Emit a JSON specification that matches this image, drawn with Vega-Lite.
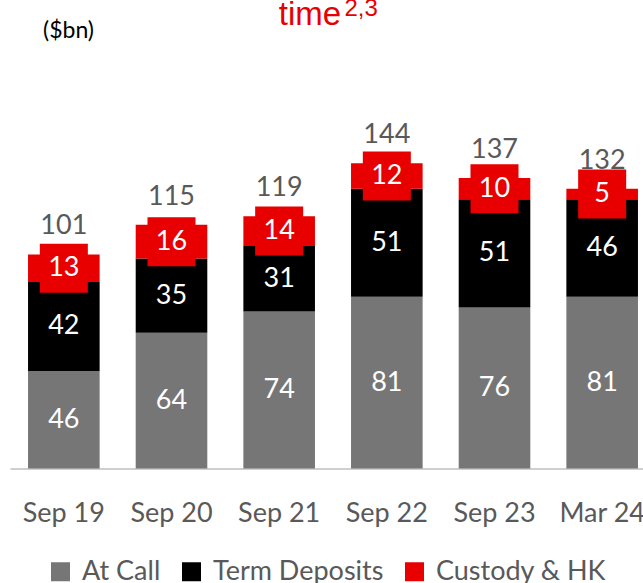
{
  "$schema": "https://vega.github.io/schema/vega-lite/v6.json",
  "autosize": "none",
  "width": 646,
  "height": 318,
  "padding": {"left": 10, "top": 150.5, "right": 0, "bottom": 114.5},
  "background": "white",
  "title": {
    "text": "time",
    "color": "#E80000",
    "font": "Liberation Sans",
    "fontSize": 33,
    "fontWeight": "normal",
    "anchor": "middle",
    "frame": "group",
    "baseline": "alphabetic",
    "dx": -23,
    "dy": 66
  },
  "config": {
    "view": {"stroke": null},
    "font": "Lato"
  },
  "data": {
    "values": [
      {"period": "Sep 19", "series": "At Call", "order": 1, "value": 46},
      {"period": "Sep 19", "series": "Term Deposits", "order": 2, "value": 42},
      {"period": "Sep 19", "series": "Custody & HK", "order": 3, "value": 13},
      {"period": "Sep 20", "series": "At Call", "order": 1, "value": 64},
      {"period": "Sep 20", "series": "Term Deposits", "order": 2, "value": 35},
      {"period": "Sep 20", "series": "Custody & HK", "order": 3, "value": 16},
      {"period": "Sep 21", "series": "At Call", "order": 1, "value": 74},
      {"period": "Sep 21", "series": "Term Deposits", "order": 2, "value": 31},
      {"period": "Sep 21", "series": "Custody & HK", "order": 3, "value": 14},
      {"period": "Sep 22", "series": "At Call", "order": 1, "value": 81},
      {"period": "Sep 22", "series": "Term Deposits", "order": 2, "value": 51},
      {"period": "Sep 22", "series": "Custody & HK", "order": 3, "value": 12},
      {"period": "Sep 23", "series": "At Call", "order": 1, "value": 76},
      {"period": "Sep 23", "series": "Term Deposits", "order": 2, "value": 51},
      {"period": "Sep 23", "series": "Custody & HK", "order": 3, "value": 10},
      {"period": "Mar 24", "series": "At Call", "order": 1, "value": 81},
      {"period": "Mar 24", "series": "Term Deposits", "order": 2, "value": 46},
      {"period": "Mar 24", "series": "Custody & HK", "order": 3, "value": 5}
    ]
  },
  "transform": [
    {"stack": "value", "groupby": ["period"], "sort": [{"field": "order", "order": "ascending"}], "as": ["v0", "v1"]},
    {"calculate": "(datum.v0 + datum.v1) / 2", "as": "mid"}
  ],
  "encoding": {
    "x": {
      "field": "period",
      "type": "nominal",
      "sort": ["Sep 19", "Sep 20", "Sep 21", "Sep 22", "Sep 23", "Mar 24"],
      "scale": {"paddingInner": 0.335, "paddingOuter": 0.1675},
      "axis": {
        "title": "2,3",
        "titleColor": "#E80000",
        "titleFont": "Liberation Sans",
        "titleFontSize": 24,
        "titleFontWeight": "normal",
        "titleAlign": "left",
        "titleBaseline": "alphabetic",
        "titleAngle": 0,
        "titleX": 334,
        "titleY": -453.5,
        "labelAngle": 0,
        "labelFontSize": 27,
        "labelColor": "#595959",
        "labelPadding": 32,
        "ticks": false,
        "domainColor": "#BFBFBF",
        "domainWidth": 1.5,
        "grid": false
      }
    }
  },
  "layer": [
    {
      "mark": {"type": "bar"},
      "encoding": {
        "y": {
          "field": "v1",
          "type": "quantitative",
          "scale": {"domain": [0, 150], "nice": false},
          "axis": {
            "title": "($bn)",
            "titleAngle": 0,
            "titleAlign": "center",
            "titleBaseline": "alphabetic",
            "titleX": 58,
            "titleY": -113,
            "titleFontSize": 23,
            "titleFontWeight": "normal",
            "titleColor": "#000000",
            "labels": false,
            "ticks": false,
            "domain": false,
            "grid": false
          }
        },
        "y2": {"field": "v0"},
        "color": {
          "field": "series",
          "type": "nominal",
          "scale": {
            "domain": ["At Call", "Term Deposits", "Custody & HK"],
            "range": ["#767676", "#000000", "#E80000"]
          },
          "legend": {
            "title": null,
            "orient": "none",
            "legendX": 37,
            "legendY": 407.5,
            "direction": "horizontal",
            "symbolType": "square",
            "symbolSize": 361,
            "symbolStrokeWidth": 0,
            "symbolOpacity": 1,
            "labelFontSize": 27,
            "labelColor": "#595959",
            "labelOffset": 8,
            "labelLimit": 400,
            "columnPadding": 17
          }
        }
      }
    },
    {
      "transform": [{"filter": "datum.series === 'Custody & HK'"}],
      "mark": {"type": "point", "shape": "M-0.98,-1H0.98V1H-0.98Z", "filled": true, "color": "#E80000", "opacity": 1, "size": 2401, "strokeWidth": 0},
      "encoding": {
        "y": {"field": "mid", "type": "quantitative"}
      }
    },
    {
      "mark": {"type": "text", "color": "white", "fontSize": 27, "baseline": "middle", "align": "center"},
      "encoding": {
        "y": {"field": "mid", "type": "quantitative"},
        "text": {"field": "value", "type": "quantitative"}
      }
    },
    {
      "mark": {"type": "text", "color": "#595959", "fontSize": 27, "baseline": "middle", "align": "center", "dy": -28},
      "encoding": {
        "y": {"aggregate": "sum", "field": "value", "type": "quantitative"},
        "text": {"aggregate": "sum", "field": "value", "type": "quantitative"}
      }
    }
  ]
}
